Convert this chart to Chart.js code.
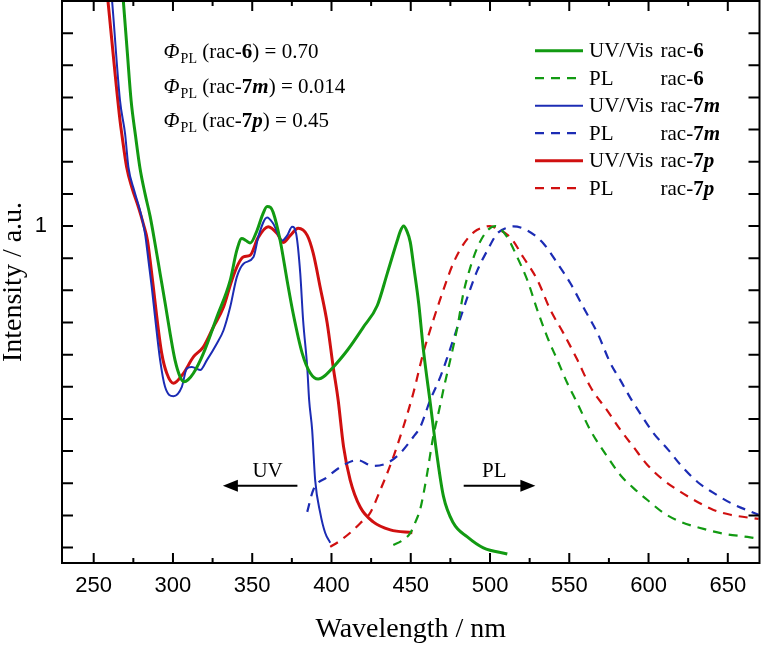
<!DOCTYPE html>
<html>
<head>
<meta charset="utf-8">
<script src="https://cdn.jsdelivr.net/npm/chart.js@4.4.1/dist/chart.umd.min.js"></script>
<style>
  html, body { margin: 0; padding: 0; background: #fff; }
  #wrap { width: 761px; height: 647px; }
</style>
</head>
<body>
<div id="wrap"><canvas id="chart" width="761" height="647"></canvas></div>
<script>
// ─── Data: wavelength (nm) / normalised intensity ───
const uvNm6  = [267.5, 268.7, 271.2, 273.6, 276.4, 279.2, 282.4, 285.6, 288.7, 291.9, 295.1, 298.2, 301.3, 304.5, 307.0, 309.5, 312.9, 319.2, 327.7, 336.1, 340.3, 343.4, 346.0, 348.7, 353.1, 356.5, 359.4, 361.5, 363.2, 367.6, 372.0, 375.8, 381.5, 386.6, 391.6, 396.0, 401.1, 409.9, 420.0, 428.9, 435.2, 441.5, 443.5, 445.5, 447.5, 449.7, 452.0, 455.0, 458.1, 462.3, 466.6, 470.6, 476.8, 485.7, 495.8, 510.9];
const uvInt6 = [1.77, 1.70, 1.54, 1.39, 1.28, 1.18, 1.10, 1.03, 0.945, 0.852, 0.759, 0.666, 0.583, 0.531, 0.516, 0.522, 0.542, 0.604, 0.717, 0.831, 0.925, 0.961, 0.955, 0.947, 0.987, 1.035, 1.061, 1.058, 1.043, 0.956, 0.831, 0.729, 0.605, 0.543, 0.524, 0.535, 0.561, 0.613, 0.685, 0.753, 0.853, 0.955, 0.985, 1.0, 0.985, 0.95, 0.87, 0.76, 0.61, 0.45, 0.285, 0.16, 0.077, 0.033, -0.001, -0.020];

const plNm6  = [439.0, 444.0, 449.7, 453.0, 456.0, 460.0, 464.0, 468.0, 471.0, 474.9, 479.4, 483.2, 487.6, 492.0, 498.3, 503.4, 510.9, 517.2, 523.6, 529.9, 536.2, 542.5, 548.8, 555.1, 563.3, 574.1, 582.3, 590.5, 599.3, 609.4, 620.2, 634.7, 647.3, 662.4, 671.0];
const plInt6 = [0.008, 0.02, 0.045, 0.08, 0.12, 0.22, 0.34, 0.43, 0.50, 0.583, 0.685, 0.791, 0.872, 0.933, 0.986, 1.0, 0.965, 0.903, 0.831, 0.738, 0.654, 0.583, 0.511, 0.449, 0.365, 0.282, 0.225, 0.185, 0.148, 0.108, 0.080, 0.058, 0.043, 0.033, 0.026];

const uvNm7m  = [260.6, 261.6, 266.6, 269.8, 271.9, 275.5, 279.2, 282.4, 284.5, 286.6, 288.7, 291.9, 295.0, 300.3, 305.6, 308.7, 311.9, 317.1, 321.4, 327.7, 331.9, 336.1, 340.3, 344.5, 350.8, 354.0, 359.4, 363.2, 368.9, 372.0, 375.2, 377.7, 380.3, 382.1, 384.7, 385.9, 387.8, 389.7, 392.9, 396.0, 399.2];
const uvInt7m = [1.755, 1.70, 1.39, 1.287, 1.183, 1.111, 1.049, 0.976, 0.894, 0.811, 0.717, 0.583, 0.50, 0.471, 0.50, 0.557, 0.562, 0.552, 0.583, 0.635, 0.676, 0.748, 0.842, 0.883, 0.904, 0.97, 1.027, 1.008, 0.955, 0.970, 0.998, 0.977, 0.853, 0.707, 0.561, 0.459, 0.366, 0.210, 0.108, 0.046, 0.015];

const plNm7m  = [384.7, 388.5, 397.3, 405.5, 416.2, 426.3, 435.2, 443.4, 451.6, 456.0, 462.3, 468.6, 473.1, 479.4, 485.7, 492.0, 498.3, 504.6, 510.9, 514.7, 523.6, 533.7, 542.5, 550.7, 558.9, 567.8, 576.0, 582.3, 588.6, 596.2, 603.1, 612.6, 620.2, 630.9, 641.0, 651.7, 669.4];
const plInt7m = [0.111, 0.179, 0.219, 0.250, 0.272, 0.254, 0.263, 0.294, 0.344, 0.375, 0.459, 0.530, 0.592, 0.685, 0.778, 0.862, 0.924, 0.977, 0.995, 0.999, 0.986, 0.946, 0.884, 0.822, 0.747, 0.667, 0.573, 0.520, 0.465, 0.406, 0.356, 0.303, 0.257, 0.204, 0.170, 0.139, 0.102];

const uvNm7p  = [258.0, 259.0, 266.6, 267.7, 270.8, 274.0, 278.2, 281.3, 283.9, 285.6, 287.6, 289.8, 292.9, 296.1, 300.3, 306.6, 312.9, 319.2, 325.5, 331.9, 337.1, 341.3, 344.5, 348.7, 353.7, 360.1, 365.7, 369.5, 373.9, 379.0, 384.7, 388.5, 392.9, 397.3, 401.1, 404.2, 407.6, 411.8, 418.1, 426.3, 437.1, 451.0];
const uvInt7p = [1.75, 1.70, 1.328, 1.287, 1.183, 1.121, 1.059, 1.007, 0.956, 0.893, 0.811, 0.717, 0.604, 0.542, 0.511, 0.542, 0.593, 0.624, 0.686, 0.748, 0.831, 0.883, 0.904, 0.909, 0.964, 0.998, 0.977, 0.949, 0.970, 0.993, 0.971, 0.915, 0.809, 0.698, 0.561, 0.459, 0.314, 0.210, 0.126, 0.080, 0.055, 0.046];

const plNm7p  = [399.2, 405.0, 411.8, 418.0, 424.4, 430.8, 438.3, 445.3, 451.6, 457.9, 464.2, 470.5, 476.8, 483.2, 490.0, 497.0, 500.0, 505.0, 512.8, 521.0, 529.9, 538.1, 546.3, 555.1, 563.3, 574.1, 582.3, 590.5, 599.3, 609.4, 620.2, 630.9, 641.0, 651.7, 669.4];
const plInt7p = [0.002, 0.02, 0.046, 0.075, 0.108, 0.179, 0.272, 0.375, 0.480, 0.605, 0.707, 0.800, 0.884, 0.943, 0.982, 0.998, 1.0, 0.99, 0.965, 0.903, 0.832, 0.739, 0.667, 0.584, 0.500, 0.425, 0.366, 0.313, 0.257, 0.210, 0.173, 0.142, 0.117, 0.102, 0.089];

// ─── Axes ───
const xMajorTicks = [250, 300, 350, 400, 450, 500, 550, 600, 650];
const xMinorTicks = [275, 325, 375, 425, 475, 525, 575, 625];
const yTicks = [0, 0.1, 0.2, 0.3, 0.4, 0.5, 0.6, 0.7, 0.8, 0.9, 1.0, 1.1, 1.2, 1.3, 1.4, 1.5, 1.6];
const yLabelTicks = [1];

// ─── Quantum yields ───
const qyCompounds = ['6', '7m', '7p'];
const qyValues = ['0.70', '0.014', '0.45'];

const GREEN = '#129a12';
const BLUE = '#1c2cb4';
const RED = '#d01010';
const SERIF = "'Liberation Serif', 'Times New Roman', serif";
const SANS = "'Liberation Sans', Arial, sans-serif";

const pts = (xs, ys) => xs.map((x, i) => ({ x, y: ys[i] }));

function series(label, xs, ys, color, width, dashed) {
    return {
        label,
        data: pts(xs, ys),
        borderColor: color,
        borderWidth: width,
        borderDash: dashed ? [9, 7] : [],
        pointRadius: 0,
        fill: false,
        cubicInterpolationMode: 'monotone',
    };
}

// draw "rac-7m" style compound names: digit bold, letter bold italic
function drawCompound(ctx, x, y, name, size) {
    ctx.font = `${size}px ${SERIF}`;
    ctx.fillText('rac-', x, y);
    x += ctx.measureText('rac-').width;
    ctx.font = `bold ${size}px ${SERIF}`;
    ctx.fillText(name[0], x, y);
    x += ctx.measureText(name[0]).width;
    if (name.length > 1) {
        ctx.font = `italic bold ${size}px ${SERIF}`;
        ctx.fillText(name.slice(1), x, y);
        x += ctx.measureText(name.slice(1)).width;
    }
    return x;
}

// ─── Frame + inward ticks on all four sides ───
const framePlugin = {
    id: 'frame',
    afterDraw(chart) {
        const { ctx, chartArea: a, scales: { x, y } } = chart;
        ctx.save();
        ctx.strokeStyle = '#000';
        ctx.lineWidth = 2;
        ctx.strokeRect(a.left, a.top, a.right - a.left, a.bottom - a.top);
        ctx.beginPath();
        const xt = (v, len) => {
            const px = x.getPixelForValue(v);
            ctx.moveTo(px, a.bottom); ctx.lineTo(px, a.bottom - len);
            ctx.moveTo(px, a.top); ctx.lineTo(px, a.top + len);
        };
        xMajorTicks.forEach(v => xt(v, 10));
        xMinorTicks.forEach(v => xt(v, 5));
        yTicks.forEach(v => {
            const py = y.getPixelForValue(v);
            ctx.moveTo(a.left, py); ctx.lineTo(a.left + 11, py);
            ctx.moveTo(a.right, py); ctx.lineTo(a.right - 11, py);
        });
        ctx.stroke();
        ctx.restore();
    }
};

// ─── Legend (two columns of text, compound names in bold) ───
const legendPlugin = {
    id: 'sideLegend',
    afterDraw(chart) {
        const { ctx } = chart;
        ctx.save();
        ctx.fillStyle = '#000';
        ctx.textBaseline = 'alphabetic';
        chart.data.datasets.forEach((ds, i) => {
            const ly = 50.7 + 27.5 * i;
            ctx.beginPath();
            ctx.strokeStyle = ds.borderColor;
            ctx.lineWidth = ds.borderWidth;
            ctx.setLineDash(ds.borderDash);
            ctx.moveTo(535, ly);
            ctx.lineTo(583, ly);
            ctx.stroke();
            ctx.setLineDash([]);
            const [kind, comp] = ds.label.split(' rac-');
            ctx.font = `21px ${SERIF}`;
            ctx.fillText(kind, 589, ly + 6.6);
            drawCompound(ctx, 660.5, ly + 6.6, comp, 21);
        });
        ctx.restore();
    }
};

// ─── Quantum yield notes and UV / PL arrows ───
const notesPlugin = {
    id: 'notes',
    afterDraw(chart) {
        const { ctx, scales: { x, y } } = chart;
        ctx.save();
        ctx.fillStyle = '#000';
        ctx.strokeStyle = '#000';
        ctx.textBaseline = 'alphabetic';
        const qx = x.getPixelForValue(294.1);
        const qBase = [1.522, 1.415, 1.307];
        qyCompounds.forEach((c, i) => {
            const by = y.getPixelForValue(qBase[i]);
            let px = qx;
            ctx.font = `italic 21px ${SERIF}`;
            ctx.fillText('Φ', px, by);
            px += ctx.measureText('Φ').width + 1;
            ctx.font = `14px ${SERIF}`;
            ctx.fillText('PL', px, by + 5);
            px += ctx.measureText('PL').width;
            ctx.font = `21px ${SERIF}`;
            ctx.fillText(' (', px, by);
            px += ctx.measureText(' (').width;
            px = drawCompound(ctx, px, by, c, 21);
            ctx.font = `21px ${SERIF}`;
            ctx.fillText(') = ' + qyValues[i], px, by);
        });

        const arrow = (fromNm, toNm, v) => {
            const x1 = x.getPixelForValue(fromNm), x2 = x.getPixelForValue(toNm);
            const py = y.getPixelForValue(v);
            const dir = Math.sign(x2 - x1);
            ctx.beginPath();
            ctx.lineWidth = 2;
            ctx.moveTo(x1, py);
            ctx.lineTo(x2 - dir * 12, py);
            ctx.stroke();
            ctx.beginPath();
            ctx.moveTo(x2, py);
            ctx.lineTo(x2 - dir * 15, py - 6);
            ctx.lineTo(x2 - dir * 15, py + 6);
            ctx.closePath();
            ctx.fill();
        };
        ctx.font = `21px ${SERIF}`;
        ctx.textAlign = 'center';
        ctx.fillText('UV', x.getPixelForValue(359.7), y.getPixelForValue(0.221));
        ctx.fillText('PL', x.getPixelForValue(502.7), y.getPixelForValue(0.221));
        arrow(378.5, 331.5, 0.192);
        arrow(483.4, 528.6, 0.192);
        ctx.restore();
    }
};

new Chart(document.getElementById('chart'), {
    type: 'line',
    data: {
        datasets: [
            series('UV/Vis rac-6', uvNm6, uvInt6, GREEN, 3, false),
            series('PL rac-6', plNm6, plInt6, GREEN, 2.2, true),
            series('UV/Vis rac-7m', uvNm7m, uvInt7m, BLUE, 2, false),
            series('PL rac-7m', plNm7m, plInt7m, BLUE, 2.2, true),
            series('UV/Vis rac-7p', uvNm7p, uvInt7p, RED, 3, false),
            series('PL rac-7p', plNm7p, plInt7p, RED, 2.2, true),
        ]
    },
    options: {
        responsive: false,
        animation: false,
        devicePixelRatio: 1,
        layout: { padding: { top: 1, right: 1.5, left: 0, bottom: 0 } },
        plugins: { legend: { display: false }, tooltip: { enabled: false } },
        scales: {
            x: {
                type: 'linear',
                min: 230,
                max: 670,
                grid: { display: false, drawTicks: false },
                border: { display: false },
                afterBuildTicks: s => { s.ticks = xMajorTicks.map(v => ({ value: v })); },
                afterFit: s => { s.height = 84; s.paddingLeft = 0; s.paddingRight = 0; },
                ticks: {
                    autoSkip: false,
                    maxRotation: 0,
                    padding: 12,
                    color: '#000',
                    font: { family: SANS, size: 22, lineHeight: 1 },
                },
                title: {
                    display: true,
                    text: 'Wavelength / nm',
                    color: '#000',
                    font: { family: SERIF, size: 28, lineHeight: 1 },
                    padding: { top: 0, bottom: 3 },
                }
            },
            y: {
                type: 'linear',
                min: -0.048,
                max: 1.70,
                grid: { display: false, drawTicks: false },
                border: { display: false },
                afterBuildTicks: s => { s.ticks = yLabelTicks.map(v => ({ value: v })); },
                afterFit: s => { s.width = 62; s.paddingTop = 0; s.paddingBottom = 0; },
                ticks: {
                    padding: 15,
                    color: '#000',
                    font: { family: SANS, size: 22, lineHeight: 1 },
                    callback: v => String(v),
                },
                title: {
                    display: true,
                    text: 'Intensity / a.u.',
                    color: '#000',
                    font: { family: SERIF, size: 28, lineHeight: 1 },
                    padding: { top: 0, bottom: 0 },
                }
            }
        }
    },
    plugins: [framePlugin, legendPlugin, notesPlugin]
});
</script>
</body>
</html>
